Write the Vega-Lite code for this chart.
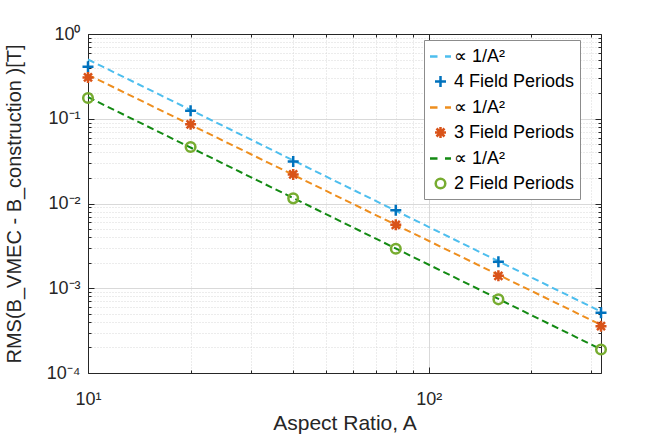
{
  "$schema": "https://vega.github.io/schema/vega-lite/v6.json",
  "width": 513,
  "height": 339,
  "autosize": {"type": "none"},
  "padding": {"left": 88, "top": 34, "right": 63, "bottom": 65},
  "config": {
    "font": "Liberation Sans",
    "view": {"stroke": null},
    "axis": {
      "domainColor": "#262626",
      "domainWidth": 1,
      "tickColor": "#262626",
      "labelColor": "#262626",
      "titleColor": "#262626",
      "labelFontSize": 18,
      "titleFontSize": 21,
      "titleFontWeight": "normal",
      "labelOverlap": false,
      "labelFlush": false
    }
  },
  "layer": [
    {
      "data": {
        "values": [
          {"A": 10, "rms": 0.5, "series": "a4"},
          {"A": 320, "rms": 0.00053, "series": "a4"},
          {"A": 10, "rms": 0.33, "series": "a3"},
          {"A": 320, "rms": 0.00037, "series": "a3"},
          {"A": 10, "rms": 0.18, "series": "a2"},
          {"A": 320, "rms": 0.00019, "series": "a2"}
        ]
      },
      "mark": {"type": "line", "strokeDash": [7, 4], "strokeWidth": 2},
      "encoding": {
        "x": {
          "field": "A", "type": "quantitative",
          "scale": {"type": "log", "domain": [10, 320], "nice": false},
          "axis": {
            "orient": "bottom",
            "values": [10, 20, 30, 40, 50, 60, 70, 80, 90, 100, 200, 300],
            "labelExpr": "datum.value == 10 ? '10¹' : datum.value == 100 ? '10²' : ''",
            "labelPadding": 23,
            "title": "Aspect Ratio, A",
            "titlePadding": 1,
            "grid": true,
            "gridColor": "#d9d9d9",
            "gridDash": {"condition": {"test": "datum.value == 10 || datum.value == 100", "value": []}, "value": [1, 2]},
            "tickSize": {"condition": {"test": "datum.value == 10 || datum.value == 100", "value": -6}, "value": -3}
          }
        },
        "y": {
          "field": "rms", "type": "quantitative",
          "scale": {"type": "log", "domain": [0.0001, 1], "nice": false},
          "axis": {
            "orient": "left",
            "values": [0.0001, 0.0002, 0.0003, 0.0004, 0.0005, 0.0006, 0.0007, 0.0008, 0.0009,
                       0.001, 0.002, 0.003, 0.004, 0.005, 0.006, 0.007, 0.008, 0.009,
                       0.01, 0.02, 0.03, 0.04, 0.05, 0.06, 0.07, 0.08, 0.09,
                       0.1, 0.2, 0.3, 0.4, 0.5, 0.6, 0.7, 0.8, 0.9, 1],
            "labelExpr": "datum.value == 1 ? '10⁰' : datum.value == 0.1 ? '10⁻¹' : datum.value == 0.01 ? '10⁻²' : datum.value == 0.001 ? '10⁻³' : datum.value == 0.0001 ? '10⁻⁴' : ''",
            "labelPadding": 14,
            "title": "RMS(B_VMEC - B_construction )[T]",
            "titleFontSize": 20,
            "titlePadding": 22,
            "grid": true,
            "gridColor": "#d9d9d9",
            "gridDash": {"condition": {"test": "datum.value == 1 || datum.value == 0.1 || datum.value == 0.01 || datum.value == 0.001 || datum.value == 0.0001", "value": []}, "value": [1, 2]},
            "tickSize": {"condition": {"test": "datum.value == 1 || datum.value == 0.1 || datum.value == 0.01 || datum.value == 0.001 || datum.value == 0.0001", "value": -6}, "value": -3}
          }
        },
        "stroke": {
          "field": "series", "type": "nominal",
          "scale": {
            "domain": ["a4", "a3", "a2"],
            "range": ["#4DBEEE", "#EE8E1E", "#138A13"]
          },
          "legend": null
        }
      }
    },
    {
      "data": {
        "values": [
          {"A": 10, "rms": 0.41, "series": "p4"},
          {"A": 20, "rms": 0.124, "series": "p4"},
          {"A": 40, "rms": 0.0314, "series": "p4"},
          {"A": 80, "rms": 0.0083, "series": "p4"},
          {"A": 160, "rms": 0.00206, "series": "p4"},
          {"A": 320, "rms": 0.000513, "series": "p4"},
          {"A": 10, "rms": 0.307, "series": "p3"},
          {"A": 20, "rms": 0.086, "series": "p3"},
          {"A": 40, "rms": 0.022, "series": "p3"},
          {"A": 80, "rms": 0.0056, "series": "p3"},
          {"A": 160, "rms": 0.0014, "series": "p3"},
          {"A": 320, "rms": 0.000357, "series": "p3"},
          {"A": 10, "rms": 0.176, "series": "p2"},
          {"A": 20, "rms": 0.0464, "series": "p2"},
          {"A": 40, "rms": 0.0115, "series": "p2"},
          {"A": 80, "rms": 0.00293, "series": "p2"},
          {"A": 160, "rms": 0.00074, "series": "p2"},
          {"A": 320, "rms": 0.000189, "series": "p2"}
        ]
      },
      "mark": {"type": "point", "filled": false, "size": 400, "strokeWidth": 2.5, "opacity": 1},
      "encoding": {
        "x": {
          "field": "A", "type": "quantitative",
          "axis": {
            "orient": "top",
            "values": [10, 20, 30, 40, 50, 60, 70, 80, 90, 100, 200, 300],
            "labels": false,
            "title": null,
            "grid": false,
            "tickSize": {"condition": {"test": "datum.value == 10 || datum.value == 100", "value": -6}, "value": -3}
          }
        },
        "y": {
          "field": "rms", "type": "quantitative",
          "axis": {
            "orient": "right",
            "values": [0.0001, 0.0002, 0.0003, 0.0004, 0.0005, 0.0006, 0.0007, 0.0008, 0.0009,
                       0.001, 0.002, 0.003, 0.004, 0.005, 0.006, 0.007, 0.008, 0.009,
                       0.01, 0.02, 0.03, 0.04, 0.05, 0.06, 0.07, 0.08, 0.09,
                       0.1, 0.2, 0.3, 0.4, 0.5, 0.6, 0.7, 0.8, 0.9, 1],
            "labels": false,
            "title": null,
            "grid": false,
            "tickSize": {"condition": {"test": "datum.value == 1 || datum.value == 0.1 || datum.value == 0.01 || datum.value == 0.001 || datum.value == 0.0001", "value": -6}, "value": -3}
          }
        },
        "color": {
          "field": "series", "type": "nominal",
          "scale": {
            "domain": ["a4", "p4", "a3", "p3", "a2", "p2"],
            "range": ["#4DBEEE", "#0072BD", "#EE8E1E", "#D95319", "#138A13", "#77AC30"]
          },
          "legend": {
            "orient": "none",
            "legendX": 336,
            "legendY": 6,
            "title": null,
            "labelExpr": "substring(datum.value, 0, 1) == 'a' ? ' ∝ 1/A²' : substring(datum.value, 1, 2) + ' Field Periods\u2003'",
            "labelFontSize": 18,
            "labelColor": "#000000",
            "labelOffset": 2,
            "symbolSize": 400,
            "symbolStrokeWidth": 2.5,
            "rowPadding": 4,
            "padding": 5,
            "strokeColor": "#8c8c8c",
            "fillColor": "#ffffff"
          }
        },
        "shape": {
          "field": "series", "type": "nominal",
          "scale": {
            "domain": ["a4", "p4", "a3", "p3", "a2", "p2"],
            "range": [
              "M-1.05,0H-0.3M0.45,0H1.05",
              "M-0.55,0H0.55M0,-0.55V0.55",
              "M-1.05,0H-0.3M0.45,0H1.05",
              "M-0.55,0H0.55M0,-0.55V0.55M-0.4,-0.4L0.4,0.4M-0.4,0.4L0.4,-0.4",
              "M-1.05,0H-0.3M0.45,0H1.05",
              "M0.48,0A0.48,0.48,0,1,1,-0.48,0A0.48,0.48,0,1,1,0.48,0Z"
            ]
          }
        }
      }
    }
  ],
  "resolve": {"axis": {"x": "independent", "y": "independent"}}
}
